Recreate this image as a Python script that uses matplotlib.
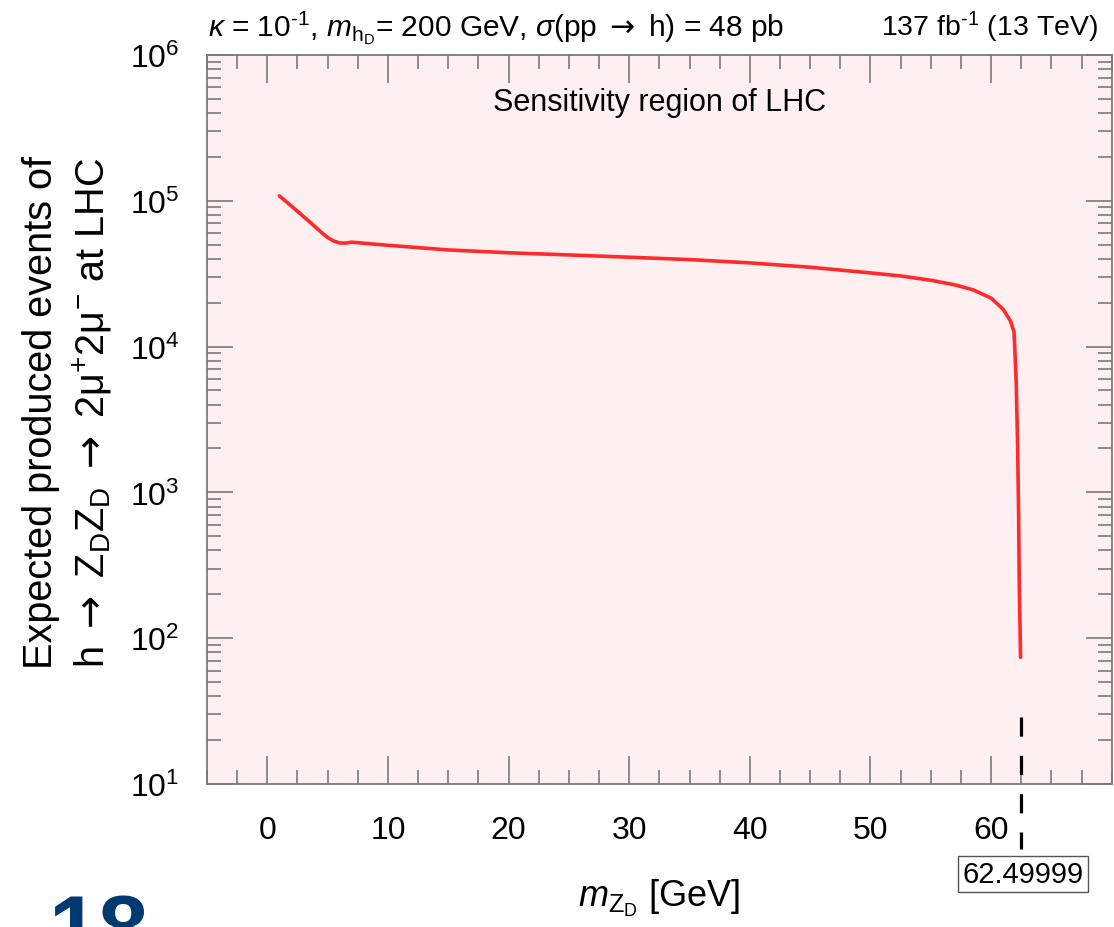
import numpy as np
import matplotlib
matplotlib.use("Agg")
import matplotlib.pyplot as plt
from matplotlib.ticker import MultipleLocator, LogLocator, NullFormatter

plt.rcParams['font.family'] = ['Liberation Sans', 'DejaVu Sans']
plt.rcParams['mathtext.fontset'] = 'custom'
plt.rcParams['mathtext.rm'] = 'Liberation Sans'
plt.rcParams['mathtext.it'] = 'Liberation Sans:italic'
plt.rcParams['mathtext.bf'] = 'Liberation Sans:bold'
plt.rcParams['mathtext.sf'] = 'DejaVu Sans'

# data
mzd = [1, 2, 3, 4, 4.5, 5, 5.5, 6, 6.5, 7, 10, 15, 20, 25, 30, 35, 40, 45, 50,
       52.5, 55, 57, 58.5, 60, 61, 61.6, 61.9, 62.08, 62.2, 62.28, 62.33, 62.44]
events = [1.08e5, 9.2e4, 7.8e4, 6.6e4, 6.05e4, 5.6e4, 5.3e4, 5.13e4, 5.13e4,
          5.2e4, 4.95e4, 4.6e4, 4.4e4, 4.25e4, 4.1e4, 3.95e4, 3.75e4, 3.5e4,
          3.2e4, 3.05e4, 2.85e4, 2.65e4, 2.45e4, 2.15e4, 1.8e4, 1.5e4, 1.26e4,
          5.7e3, 2.0e3, 690, 243, 74]
mzd_max = 62.49999
xticks = [0, 10, 20, 30, 40, 50, 60]

grey = '#7a7a7a'
arrow = r'$\mathsf{\rightarrow}$'

fig = plt.figure(figsize=(11.14, 9.28), dpi=100)
ax = fig.add_axes([0.1858, 0.1541, 0.8122, 0.7856])
ax.set_facecolor('#fef0f0')

ax.plot(mzd, events, color='#ff2a2a', lw=2.6, solid_capstyle='round',
        solid_joinstyle='round')
ax.plot([mzd_max, mzd_max], [29, 3.6], color='black', lw=2.3,
        dashes=(6, 6), clip_on=False)

ax.set_yscale('log')
ax.set_xlim(-5, 70)
ax.set_ylim(10, 1e6)

ax.set_xticks(xticks)
ax.xaxis.set_minor_locator(MultipleLocator(2.5))
ax.yaxis.set_major_locator(LogLocator(base=10, numticks=10))
ax.yaxis.set_minor_locator(LogLocator(base=10, subs=np.arange(2, 10), numticks=20))
ax.yaxis.set_minor_formatter(NullFormatter())

ax.tick_params(which='both', direction='in', top=True, right=True, color=grey,
               labelsize=23)
ax.tick_params(axis='x', which='major', length=20, width=1.2, pad=22)
ax.tick_params(axis='x', which='minor', length=10, width=1.2)
ax.tick_params(axis='y', which='major', length=19, width=1.2, pad=20)
ax.tick_params(axis='y', which='minor', length=10, width=1.2)
for s in ax.spines.values():
    s.set_color(grey)
    s.set_linewidth(1.3)

ax.text(0.5, 0.935, 'Sensitivity region of LHC', transform=ax.transAxes,
        ha='center', va='center', fontsize=22)

fig.text(0.187, 0.970,
         r'$\kappa$ = 10$^{\text{-1}}$, $m_{\rm h_{D}}$= 200 GeV, $\sigma$(pp '
         + arrow + r' h) = 48 pb',
         ha='left', va='center', fontsize=21.5)
fig.text(0.9856, 0.970, r'137 fb$^{\text{-1}}$ (13 TeV)', ha='right',
         va='center', fontsize=20.5)

fig.text(0.061, 0.555,
         'Expected produced events of\n'
         + r'h ' + arrow + r' Z$_{\rm D}$Z$_{\rm D}$ ' + arrow
         + r' 2$\mathrm{\mu}^{+}$2$\mathrm{\mu}^{-}$ at LHC',
         rotation=90, ha='center', va='center', fontsize=28.5,
         multialignment='center', linespacing=1.33)

fig.text(0.592, 0.032, r'$m_{\rm Z_{D}}$ [GeV]', ha='center', va='center',
         fontsize=26)

fig.text(0.918, 0.0571, '62.49999', ha='center', va='center', fontsize=21,
         bbox=dict(boxstyle='square,pad=0.15', fc='white', ec='#555555', lw=1))

fig.text(0.043, 0.038, '18', ha='left', va='top', fontsize=65,
         fontweight='bold', color='#003a70')

fig.savefig('out.png', dpi=100)
